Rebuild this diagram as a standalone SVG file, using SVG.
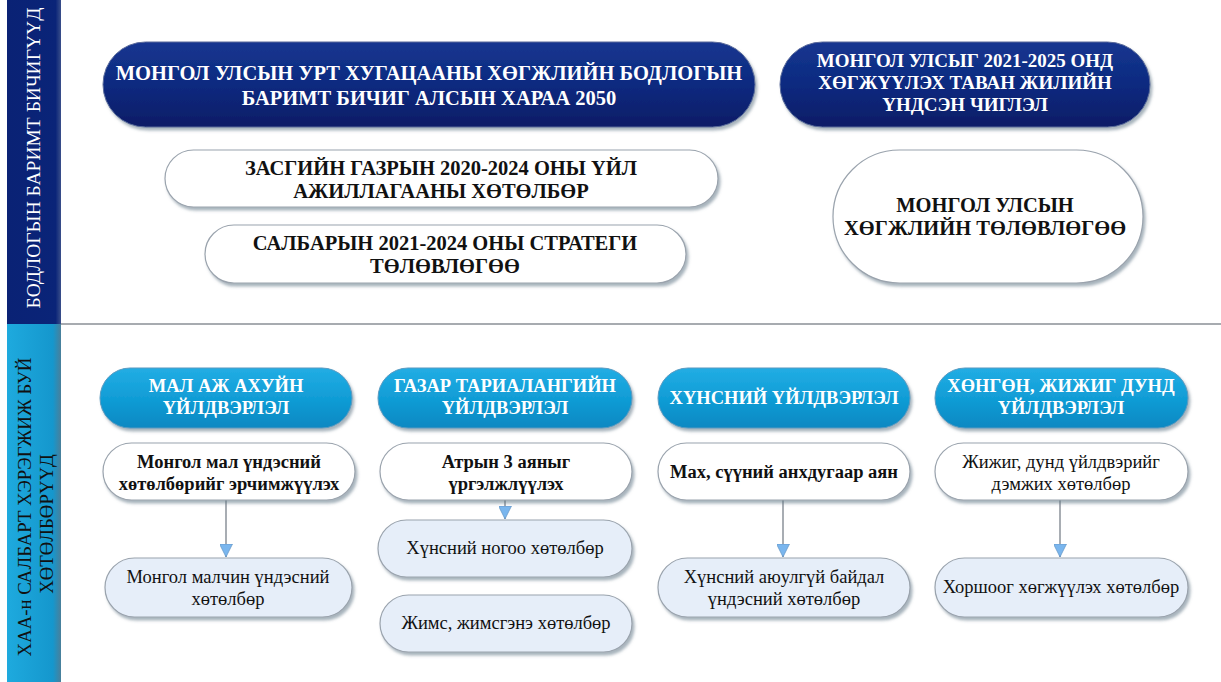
<svg xmlns="http://www.w3.org/2000/svg" width="1221" height="682" viewBox="0 0 1221 682">
<style>
text{font-family:"Liberation Serif","DejaVu Serif","Times New Roman",serif;text-anchor:middle}
.tw{fill:#ffffff;font-weight:bold;font-size:20.5px}
.tw2{fill:#ffffff;font-weight:bold;font-size:19px}
.tb{fill:#111111;font-weight:bold;font-size:20.5px}
.hw{fill:#ffffff;font-weight:bold;font-size:18.5px}
.sb{fill:#111111;font-weight:bold;font-size:18.5px}
.sn{fill:#111111;font-size:18.5px}
.navy{fill:url(#gNavy);stroke:#5a6a9a;stroke-width:1}
.white{fill:#ffffff;stroke:#9aa3ad;stroke-width:1.2}
.blue{fill:url(#gBlue);stroke:#5a9ac0;stroke-width:1}
.light{fill:#e6eef9;stroke:#9aa3ad;stroke-width:1.2}
.conn{stroke:#a8adb3;stroke-width:2;fill:none}
</style>
<defs>
<linearGradient id="gNavy" x1="0" y1="0" x2="0" y2="1">
<stop offset="0" stop-color="#173690"/>
<stop offset="0.5" stop-color="#0b2a80"/>
<stop offset="1" stop-color="#071c66"/>
</linearGradient>
<linearGradient id="gBlue" x1="0" y1="0" x2="0" y2="1">
<stop offset="0" stop-color="#22ade4"/>
<stop offset="0.5" stop-color="#119dd6"/>
<stop offset="1" stop-color="#0a88c2"/>
</linearGradient>
<linearGradient id="gBarTop" x1="0" y1="0" x2="1" y2="0">
<stop offset="0" stop-color="#0a2275"/>
<stop offset="0.9" stop-color="#0a2478"/>
<stop offset="1" stop-color="#3a4f8a"/>
</linearGradient>
<linearGradient id="gBarBot" x1="0" y1="0" x2="1" y2="0">
<stop offset="0" stop-color="#1eaade"/>
<stop offset="0.85" stop-color="#1597cd"/>
<stop offset="1" stop-color="#4a7f9a"/>
</linearGradient>
<filter id="sh" x="-5%" y="-10%" width="112%" height="130%">
<feDropShadow dx="2" dy="3" stdDeviation="1.5" flood-color="#5f7486" flood-opacity="0.55"/>
</filter>
<marker id="arr" viewBox="0 0 12 12" refX="12" refY="6" markerWidth="13" markerHeight="13" markerUnits="userSpaceOnUse" orient="auto">
<path d="M0,0 L12,6 L0,12 Z" fill="#7ab6ee" stroke="#5f8fc0" stroke-width="0.6"/>
</marker>
</defs>
<rect width="1221" height="682" fill="#ffffff"/>

<g id="sidebar">
<rect x="7" y="0" width="54" height="324" fill="url(#gBarTop)"/>
<rect x="7" y="324" width="54" height="358" fill="url(#gBarBot)"/>
<line x1="61" y1="324" x2="1221" y2="324" stroke="#8a8f96" stroke-width="1.3"/>
<text transform="translate(40,158) rotate(-90)" fill="#ffffff" font-size="19.5">БОДЛОГЫН БАРИМТ БИЧИГҮҮД</text>
<text transform="translate(31,507) rotate(-90)" fill="#111111" font-size="18.8">ХАА-н САЛБАРТ ХЭРЭГЖИЖ БУЙ</text>
<text transform="translate(53,524) rotate(-90)" fill="#111111" font-size="18.8">ХӨТӨЛБӨРҮҮД</text>
</g>

<g id="connectors">
<line class="conn" x1="226" y1="500" x2="226" y2="557" marker-end="url(#arr)"/>
<line class="conn" x1="505" y1="500" x2="505" y2="519" marker-end="url(#arr)"/>
<line class="conn" x1="783" y1="500" x2="783" y2="557" marker-end="url(#arr)"/>
<line class="conn" x1="1060" y1="500" x2="1060" y2="557" marker-end="url(#arr)"/>
</g>

<g id="n-vision2050">
<rect class="navy" x="103" y="42" width="652" height="85" rx="42.5" filter="url(#sh)"/>
<text class="tw" x="429" y="80">МОНГОЛ УЛСЫН УРТ ХУГАЦААНЫ ХӨГЖЛИЙН БОДЛОГЫН</text>
<text class="tw" x="429" y="105">БАРИМТ БИЧИГ АЛСЫН ХАРАА 2050</text>
</g>

<g id="n-fiveyear">
<rect class="navy" x="780" y="42" width="370" height="85" rx="42.5" filter="url(#sh)"/>
<text class="tw2" x="965" y="67">МОНГОЛ УЛСЫГ 2021-2025 ОНД</text>
<text class="tw2" x="965" y="89">ХӨГЖҮҮЛЭХ ТАВАН ЖИЛИЙН</text>
<text class="tw2" x="965" y="111">ҮНДСЭН ЧИГЛЭЛ</text>
</g>

<g id="n-gov">
<rect class="white" x="165" y="150" width="553" height="57" rx="28.5" filter="url(#sh)"/>
<text class="tb" x="441" y="175">ЗАСГИЙН ГАЗРЫН 2020-2024 ОНЫ ҮЙЛ</text>
<text class="tb" x="441" y="198">АЖИЛЛАГААНЫ ХӨТӨЛБӨР</text>
</g>

<g id="n-sector">
<rect class="white" x="205" y="225" width="481" height="58" rx="29" filter="url(#sh)"/>
<text class="tb" x="445" y="250">САЛБАРЫН 2021-2024 ОНЫ СТРАТЕГИ</text>
<text class="tb" x="445" y="273">ТӨЛӨВЛӨГӨӨ</text>
</g>

<g id="n-devplan">
<rect class="white" x="833" y="150" width="310" height="133" rx="66.5" filter="url(#sh)"/>
<text class="tb" x="985" y="212">МОНГОЛ УЛСЫН</text>
<text class="tb" x="985" y="235">ХӨГЖЛИЙН ТӨЛӨВЛӨГӨӨ</text>
</g>

<g id="h-livestock">
<rect class="blue" x="100" y="368" width="252" height="60" rx="30" filter="url(#sh)"/>
<text class="hw" x="226" y="392">МАЛ АЖ АХУЙН</text>
<text class="hw" x="226" y="414">ҮЙЛДВЭРЛЭЛ</text>
</g>
<g id="h-crop">
<rect class="blue" x="378" y="368" width="254" height="60" rx="30" filter="url(#sh)"/>
<text class="hw" x="505" y="392">ГАЗАР ТАРИАЛАНГИЙН</text>
<text class="hw" x="505" y="414">ҮЙЛДВЭРЛЭЛ</text>
</g>
<g id="h-food">
<rect class="blue" x="658" y="368" width="252" height="60" rx="30" filter="url(#sh)"/>
<text class="hw" x="784" y="404">ХҮНСНИЙ ҮЙЛДВЭРЛЭЛ</text>
</g>
<g id="h-light">
<rect class="blue" x="935" y="368" width="253" height="60" rx="30" filter="url(#sh)"/>
<text class="hw" x="1061" y="392">ХӨНГӨН, ЖИЖИГ ДУНД</text>
<text class="hw" x="1061" y="414">ҮЙЛДВЭРЛЭЛ</text>
</g>

<g id="p-livestock">
<rect class="white" x="103" y="443" width="252" height="57" rx="28.5" filter="url(#sh)"/>
<text class="sb" x="229" y="468">Монгол мал үндэсний</text>
<text class="sb" x="229" y="490">хөтөлбөрийг эрчимжүүлэх</text>
</g>
<g id="p-atar">
<rect class="white" x="380" y="443" width="252" height="57" rx="28.5" filter="url(#sh)"/>
<text class="sb" x="506" y="468">Атрын 3 аяныг</text>
<text class="sb" x="506" y="490">үргэлжлүүлэх</text>
</g>
<g id="p-meat">
<rect class="white" x="658" y="443" width="252" height="57" rx="28.5" filter="url(#sh)"/>
<text class="sb" x="784" y="478">Мах, сүүний анхдугаар аян</text>
</g>
<g id="p-sme">
<rect class="white" x="935" y="443" width="253" height="57" rx="28.5" filter="url(#sh)"/>
<text class="sn" x="1061" y="468">Жижиг, дунд үйлдвэрийг</text>
<text class="sn" x="1061" y="490">дэмжих хөтөлбөр</text>
</g>

<g id="p-herder">
<rect class="light" x="105" y="558" width="247" height="59" rx="29.5" filter="url(#sh)"/>
<text class="sn" x="228" y="583">Монгол малчин үндэсний</text>
<text class="sn" x="228" y="605">хөтөлбөр</text>
</g>
<g id="p-veg">
<rect class="light" x="378" y="520" width="254" height="57" rx="28.5" filter="url(#sh)"/>
<text class="sn" x="505" y="554">Хүнсний ногоо хөтөлбөр</text>
</g>
<g id="p-fruit">
<rect class="light" x="380" y="595" width="252" height="57" rx="28.5" filter="url(#sh)"/>
<text class="sn" x="506" y="629">Жимс, жимсгэнэ хөтөлбөр</text>
</g>
<g id="p-foodsafety">
<rect class="light" x="658" y="558" width="252" height="59" rx="29.5" filter="url(#sh)"/>
<text class="sn" x="784" y="583">Хүнсний аюулгүй байдал</text>
<text class="sn" x="784" y="605">үндэсний хөтөлбөр</text>
</g>
<g id="p-coop">
<rect class="light" x="935" y="558" width="253" height="59" rx="29.5" filter="url(#sh)"/>
<text class="sn" x="1061" y="593">Хоршоог хөгжүүлэх хөтөлбөр</text>
</g>
</svg>
